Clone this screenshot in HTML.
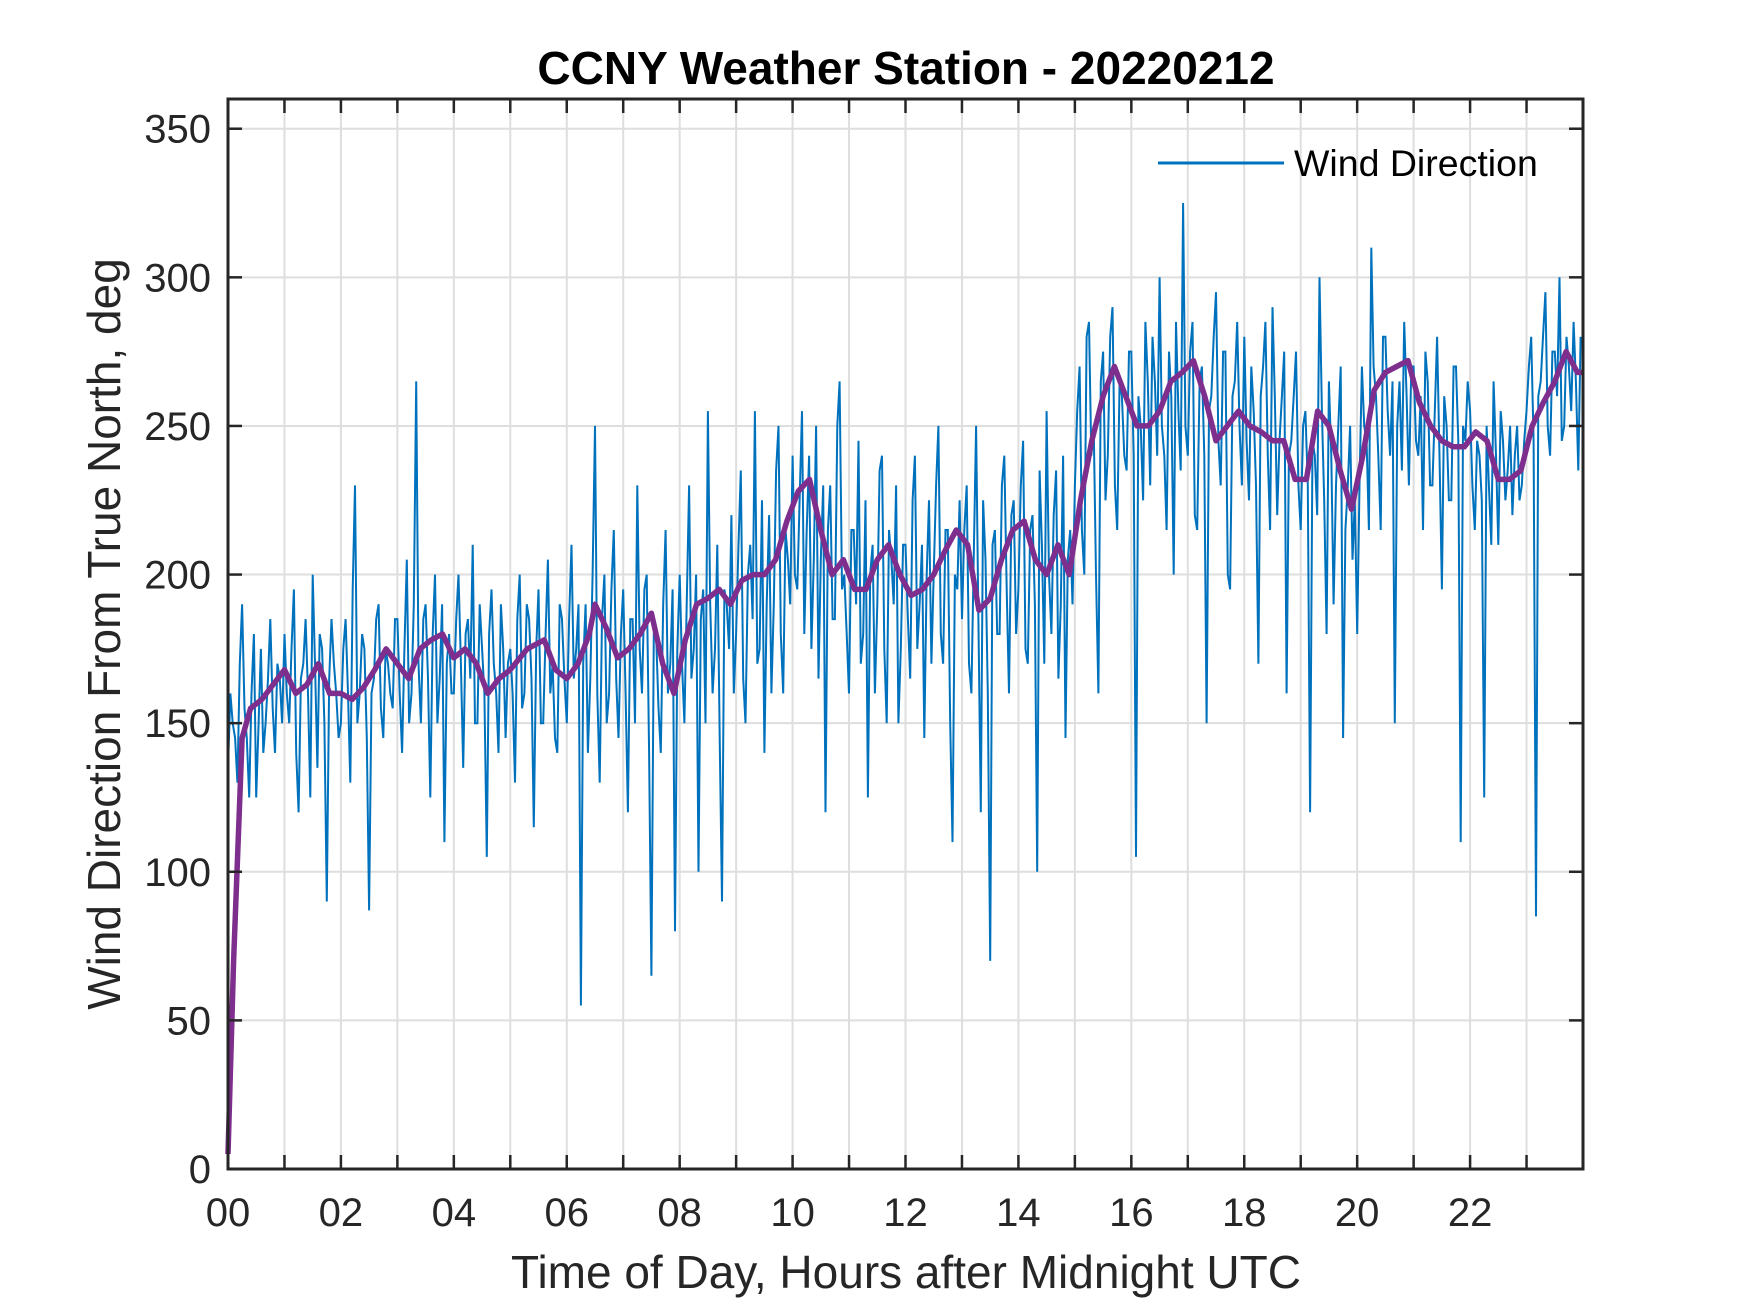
<!DOCTYPE html>
<html><head><meta charset="utf-8">
<style>
html,body{margin:0;padding:0;background:#fff;}
svg{display:block;font-family:"Liberation Sans",Arial,sans-serif;}
</style></head>
<body>
<svg id="chart" width="1750" height="1313" viewBox="0 0 1750 1313" xmlns="http://www.w3.org/2000/svg">
<rect width="1750" height="1313" fill="#fff"/>
<g id="grid"></g>
<g id="plot"></g>
<g id="axes"></g>
<text x="906" y="84" text-anchor="middle" font-size="46" font-weight="bold" fill="#000">CCNY Weather Station - 20220212</text>
<text x="906" y="1288" text-anchor="middle" font-size="46" fill="#262626">Time of Day, Hours after Midnight UTC</text>
<text transform="translate(120,634) rotate(-90)" text-anchor="middle" font-size="46" fill="#262626">Wind Direction From True North, deg</text>
<g>
<line x1="1158" y1="163" x2="1284" y2="163" stroke="#0072BD" stroke-width="3"/>
<text x="1294" y="176" font-size="37.5" fill="#000">Wind Direction</text>
</g>
</svg>
<script>
const xTickLabels = ["00","02","04","06","08","10","12","14","16","18","20","22"];
const yTicks = [0,50,100,150,200,250,300,350];
// raw wind direction, 2.5-minute samples (24 per hour)
const windRaw = [
135,160,150,145,130,170,190,155,145,125,160,180,125,150,175,140,150,165,185,155,140,170,165,150,
180,160,150,175,195,140,120,165,170,185,160,125,200,170,135,180,175,150,90,165,185,170,160,145,
150,175,185,160,130,195,230,150,160,180,175,145,87,160,165,185,190,155,145,175,170,160,155,185,
185,160,140,175,205,150,160,190,265,170,150,185,190,165,125,180,200,150,165,190,110,170,180,160,
160,185,200,170,135,180,185,165,210,150,150,190,175,160,105,180,195,170,160,140,190,175,145,170,
175,160,130,185,200,155,160,190,185,165,115,175,195,150,150,180,205,160,170,145,140,190,185,165,
150,185,210,165,175,190,55,170,190,140,165,200,250,160,130,185,200,150,160,195,215,165,145,180,
195,160,120,185,185,150,230,175,160,195,200,140,65,180,180,155,140,190,215,160,170,195,80,175,
200,170,150,190,230,165,175,200,100,185,195,150,255,190,160,175,210,145,90,195,190,175,220,160,
180,210,235,165,150,200,210,185,255,170,175,225,140,190,220,160,190,235,250,180,160,215,205,190,
240,200,195,225,255,180,215,240,175,205,250,165,205,230,120,215,230,185,185,250,265,195,200,180,
160,215,215,190,245,170,180,225,125,200,210,160,190,235,240,175,150,215,205,190,230,150,175,210,
210,185,165,225,240,175,190,210,145,200,225,170,200,230,250,180,170,215,215,150,110,200,195,225,
185,215,230,170,160,205,250,185,120,225,205,160,70,210,215,180,180,230,240,195,160,220,225,180,
195,230,245,175,170,215,220,190,100,235,210,170,255,200,180,220,235,165,190,240,145,205,215,190,
230,255,270,215,200,280,285,240,250,200,160,265,275,225,240,280,290,230,215,265,260,240,235,275,
275,240,105,260,250,225,285,265,230,280,265,240,300,250,240,215,275,260,200,285,255,235,325,250,
240,275,285,220,215,265,270,240,150,255,260,280,295,245,230,275,275,200,195,260,265,285,250,230,
280,245,225,270,255,230,170,260,270,285,240,215,290,260,220,245,260,275,160,240,245,260,275,230,
215,250,255,230,120,245,240,220,300,255,225,180,265,240,190,230,250,270,145,215,230,250,205,225,
180,230,270,250,245,215,310,270,260,240,215,280,280,255,240,265,150,250,265,235,285,260,230,270,
270,245,240,260,215,275,265,230,230,255,280,240,195,260,250,225,225,270,270,245,110,250,245,265,
255,230,215,245,240,225,125,250,230,210,265,240,210,255,245,225,235,250,220,240,250,225,230,245,
255,270,280,245,85,260,265,280,295,250,240,275,275,260,300,245,250,280,270,255,285,265,235,280
];
const samplesPerHour = 24;
// smoothed series: hours and values
const smoothHours = [0,0.1,0.25,0.4,0.6,0.8,1.0,1.2,1.4,1.6,1.8,2.0,2.2,2.4,2.6,2.8,3.0,3.2,3.4,3.6,3.8,4.0,4.2,4.4,4.6,4.8,5.0,5.3,5.6,5.8,6.0,6.2,6.4,6.5,6.7,6.9,7.1,7.3,7.5,7.7,7.9,8.1,8.3,8.5,8.7,8.9,9.1,9.3,9.5,9.7,9.9,10.1,10.3,10.5,10.7,10.9,11.1,11.3,11.5,11.7,11.9,12.1,12.3,12.5,12.7,12.9,13.1,13.3,13.5,13.7,13.9,14.1,14.3,14.5,14.7,14.9,15.1,15.3,15.5,15.7,15.9,16.1,16.3,16.5,16.7,16.9,17.1,17.3,17.5,17.7,17.9,18.1,18.3,18.5,18.7,18.9,19.1,19.3,19.5,19.7,19.9,20.1,20.3,20.5,20.7,20.9,21.1,21.3,21.5,21.7,21.9,22.1,22.3,22.5,22.7,22.9,23.1,23.3,23.5,23.7,23.9,24];
const smoothValues = [5,70,145,155,158,163,168,160,163,170,160,160,158,162,168,175,170,165,175,178,180,172,175,170,160,165,168,175,178,168,165,170,180,190,182,172,175,180,187,170,160,178,190,192,195,190,198,200,200,205,218,228,232,215,200,205,195,195,205,210,200,193,195,200,208,215,210,188,192,205,215,218,205,200,210,200,225,245,260,270,260,250,250,255,265,268,272,260,245,250,255,250,248,245,245,232,232,255,250,235,222,240,262,268,270,272,258,250,245,243,243,248,245,232,232,235,250,258,265,275,268,268];

const L=228,R=1583,T=99,B=1169,XMAX=24,YMAX=360;
const xs=h=>L+(h/XMAX)*(R-L);
const ys=v=>B-(v/YMAX)*(B-T);
const NS="http://www.w3.org/2000/svg";
function mk(tag,attrs,parent){const e=document.createElementNS(NS,tag);for(const k in attrs)e.setAttribute(k,attrs[k]);parent.appendChild(e);return e;}
const grid=document.getElementById('grid'),plot=document.getElementById('plot'),axes=document.getElementById('axes');

for(let h=1;h<XMAX;h++){
  const g=mk('line',{x1:xs(h),x2:xs(h),y1:T,y2:B,stroke:'#dedede','stroke-width':2},grid);
  
  
  const t1=mk('line',{x1:xs(h),x2:xs(h),y1:B,y2:B-14,stroke:'#262626','stroke-width':2.5},axes);
  
  
  const t2=mk('line',{x1:xs(h),x2:xs(h),y1:T,y2:T+14,stroke:'#262626','stroke-width':2.5},axes);
  
  
}
xTickLabels.forEach((lab,i)=>{
  const t=mk('text',{x:xs(i*2),y:1226,'text-anchor':'middle','font-size':40,fill:'#262626'},axes);
  t.textContent=lab;
  
  
});
yTicks.forEach(v=>{
  if(v>0){
    const g=mk('line',{x1:L,x2:R,y1:ys(v),y2:ys(v),stroke:'#dedede','stroke-width':2},grid);
    
    
  }
  const a=mk('line',{x1:L,x2:L+14,y1:ys(v),y2:ys(v),stroke:'#262626','stroke-width':2.5},axes);
  
  
  const b=mk('line',{x1:R,x2:R-14,y1:ys(v),y2:ys(v),stroke:'#262626','stroke-width':2.5},axes);
  
  
  const t=mk('text',{x:L-17,y:ys(v)+14,'text-anchor':'end','font-size':40,fill:'#262626'},axes);
  t.textContent=String(v);
  
  
});
const box=mk('rect',{x:L,y:T,width:R-L,height:B-T,fill:'none',stroke:'#262626','stroke-width':3},axes);



let d='';
windRaw.forEach((v,i)=>{const h=i/samplesPerHour;d+=(i?'L':'M')+xs(h).toFixed(1)+' '+ys(v).toFixed(1);});
const raw=mk('path',{d:d,fill:'none',stroke:'#0072BD','stroke-width':2,'stroke-linejoin':'miter'},plot);



let d2='';
smoothHours.forEach((h,i)=>{d2+=(i?'L':'M')+xs(h).toFixed(1)+' '+ys(smoothValues[i]).toFixed(1);});
const sm=mk('path',{d:d2,fill:'none',stroke:'#7E2F8E','stroke-width':5.5,'stroke-linejoin':'round'},plot);


</script>
</body></html>
